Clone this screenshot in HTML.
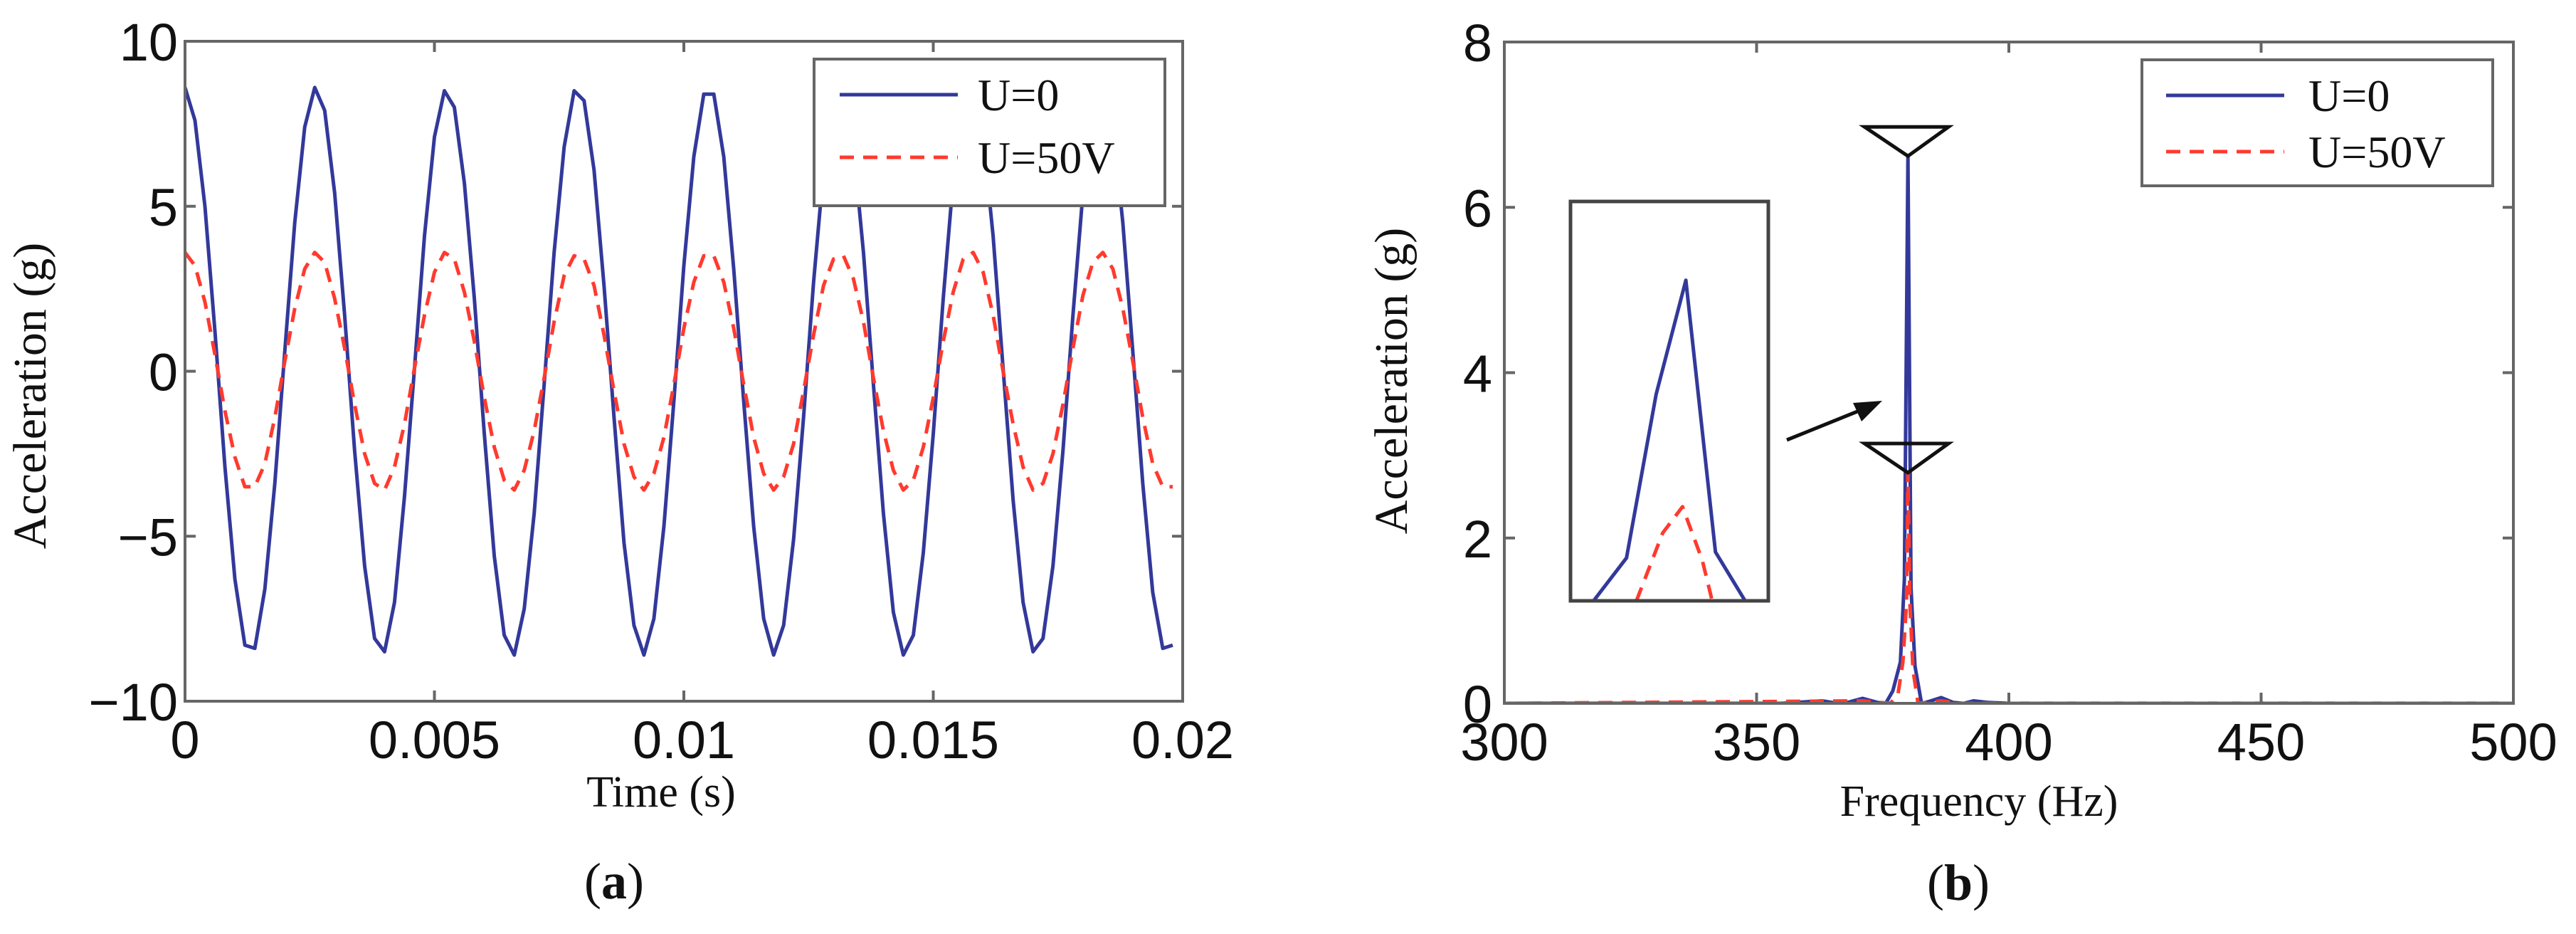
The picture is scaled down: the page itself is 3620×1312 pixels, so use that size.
<!DOCTYPE html>
<html><head><meta charset="utf-8"><style>
html,body{margin:0;padding:0;background:#fff;}
svg{display:block;}
.tick{font-family:"Liberation Sans",sans-serif;font-size:74px;fill:#111;}
.lab{font-family:"Liberation Serif",serif;fill:#111;}
</style></head><body>
<svg id="fig" width="3620" height="1312" viewBox="0 0 3620 1312" xmlns="http://www.w3.org/2000/svg">
<defs>
<clipPath id="clipA"><rect x="260" y="58" width="1402" height="927"/></clipPath>
<clipPath id="clipB"><rect x="2114" y="59" width="1418" height="929"/></clipPath>
<clipPath id="clipI"><rect x="2207" y="283" width="278" height="561"/></clipPath>
</defs>
<g id="panelA"></g>
<g id="panelB"></g>
</svg>
<script>
// ---------- Panel (a) data ----------
const timeStep = 0.0002;
const blueA = [8.6,7.6,5.0,1.2,-2.9,-6.3,-8.3,-8.4,-6.6,-3.4,
0.6,4.5,7.4,8.6,7.9,5.4,1.7,-2.4,-5.9,-8.1,
-8.5,-7.0,-3.8,0.1,4.1,7.1,8.5,8.0,5.7,2.2,
-1.9,-5.6,-8.0,-8.6,-7.2,-4.3,-0.4,3.6,6.8,8.5,
8.2,6.1,2.6,-1.4,-5.2,-7.7,-8.6,-7.5,-4.7,-0.9,
3.2,6.5,8.4,8.4,6.5,3.1,-0.9,-4.7,-7.5,-8.6,
-7.7,-5.1,-1.4,2.7,6.1,8.2,8.5,6.8,3.6,-0.4,
-4.3,-7.3,-8.6,-8.0,-5.5,-1.9,2.2,5.8,8.1,8.5,
7.1,4.1,0.1,-3.9,-7.0,-8.5,-8.1,-5.9,-2.4,1.7,
5.4,7.9,8.6,7.4,4.5,0.6,-3.4,-6.7,-8.4,-8.3];
const redA = [3.6,3.2,2.1,0.5,-1.2,-2.6,-3.5,-3.5,-2.8,-1.4,
0.3,1.9,3.1,3.6,3.3,2.2,0.7,-1.0,-2.5,-3.4,
-3.6,-2.9,-1.6,0.1,1.7,3.0,3.6,3.4,2.4,0.9,
-0.8,-2.3,-3.3,-3.6,-3.0,-1.8,-0.2,1.5,2.9,3.5,
3.4,2.6,1.1,-0.6,-2.2,-3.2,-3.6,-3.1,-2.0,-0.4,
1.3,2.7,3.5,3.5,2.7,1.3,-0.4,-2.0,-3.1,-3.6,
-3.2,-2.2,-0.6,1.1,2.6,3.4,3.5,2.8,1.5,-0.2,
-1.8,-3.0,-3.6,-3.3,-2.3,-0.8,0.9,2.4,3.4,3.6,
3.0,1.7,0.0,-1.6,-2.9,-3.6,-3.4,-2.5,-1.0,0.7,
2.3,3.3,3.6,3.1,1.9,0.3,-1.4,-2.8,-3.5,-3.5];
const xTicksA = [0,0.005,0.01,0.015,0.02];
const xTickLabelsA = ["0","0.005","0.01","0.015","0.02"];
const yTicksA = [-10,-5,0,5,10];
const yTickLabelsA = ["\u221210","\u22125","0","5","10"];

// ---------- Panel (b) data ----------
const freqBlue = [300,355,360,363,366,368,371,374,375.6,377,378.5,379.3,380,380.6,381.4,382.7,384,386.6,389,391,393,396,400,500];
const ampBlue  = [0,0,0.02,0.03,0,0.01,0.06,0.01,0,0.15,0.5,1.5,6.62,1.4,0.45,0,0.02,0.07,0.01,0,0.03,0.01,0,0];
const freqRed  = [300,371,376.5,378,379,379.7,380,380.4,381,382,386.6,390,500];
const ampRed   = [0,0.03,0,0.1,0.5,1.2,2.79,1.2,0.4,0,0.03,0,0];
const insetFreqBlue = [377.7,378.7,379.6,380.5,381.4,382.3];
const insetAmpBlue  = [1.22,1.94,4.69,6.6,2.04,1.22];
const insetFreqRed  = [379.0,379.8,380.4,381.0,381.3];
const insetAmpRed   = [1.22,2.36,2.8,1.9,1.22];
const markerVals = [6.62,2.79];
const markerFreq = 380;
const xTicksB = [300,350,400,450,500];
const xTickLabelsB = ["300","350","400","450","500"];
const yTicksB = [0,2,4,6,8];
const yTickLabelsB = ["0","2","4","6","8"];

const NS="http://www.w3.org/2000/svg";
function mk(parent,tag,attrs){const e=document.createElementNS(NS,tag);for(const k in attrs)e.setAttribute(k,attrs[k]);parent.appendChild(e);return e;}
const BLUE="#33399a", RED="#ff3a2e", AX="#666";

function axes(g,L,R,T,B,xs,ys,xT,xL,yT,yL,labelRight){
  const frame=mk(g,'rect',{x:L,y:T,width:R-L,height:B-T,fill:'none',stroke:AX,'stroke-width':4});
  
  
  xT.forEach((v,i)=>{
    const x=xs(v);
    const t1=mk(g,'line',{x1:x,x2:x,y1:B,y2:B-15,stroke:AX,'stroke-width':4});
    
    
    mk(g,'line',{x1:x,x2:x,y1:T,y2:T+15,stroke:AX,'stroke-width':4});
    const tx=mk(g,'text',{x:x,y:B+80,'text-anchor':'middle',class:'tick'});
    tx.textContent=xL[i];
    
    
  });
  yT.forEach((v,i)=>{
    const y=ys(v);
    const t1=mk(g,'line',{x1:L,x2:L+15,y1:y,y2:y,stroke:AX,'stroke-width':4});
    
    
    mk(g,'line',{x1:R,x2:R-15,y1:y,y2:y,stroke:AX,'stroke-width':4});
    const tx=mk(g,'text',{x:labelRight,y:y+27,'text-anchor':'end',class:'tick'});
    tx.textContent=yL[i];
    
    
  });
}
function poly(g,xsArr,ysArr,xs,ys,color,dash,clip,name){
  const pts=xsArr.map((v,i)=>xs(v).toFixed(1)+','+ys(ysArr[i]).toFixed(1)).join(' ');
  const p=mk(g,'polyline',{points:pts,fill:'none',stroke:color,'stroke-width':5,'stroke-linejoin':'round','clip-path':'url(#'+clip+')'});
  if(dash)p.setAttribute('stroke-dasharray',dash);
  
  
  return p;
}
function legend(g,x,y,w,h,lx1,lx2,tx,y1,y2){
  const lg=mk(g,'g',{});
  
  
  mk(lg,'rect',{x:x,y:y,width:w,height:h,fill:'#fff',stroke:AX,'stroke-width':4});
  const e1=mk(lg,'g',{});
  
  
  mk(e1,'line',{x1:lx1,x2:lx2,y1:y1,y2:y1,stroke:BLUE,'stroke-width':5});
  const t1=mk(e1,'text',{x:tx,y:y1+22,class:'lab','font-size':64});t1.textContent='U=0';
  const e2=mk(lg,'g',{});
  
  
  mk(e2,'line',{x1:lx1,x2:lx2,y1:y2,y2:y2,stroke:RED,'stroke-width':5,'stroke-dasharray':'20 13'});
  const t2=mk(e2,'text',{x:tx,y:y2+22,class:'lab','font-size':64});t2.textContent='U=50V';
}
function text(g,str,x,y,size,name,rot,extra){
  const t=mk(g,'text',Object.assign({x:x,y:y,'text-anchor':'middle',class:'lab','font-size':size},extra||{}));
  if(rot)t.setAttribute('transform','rotate(-90 '+x+' '+y+')');
  t.textContent=str;
  
  
  return t;
}

// ---------- Panel (a) ----------
(function(){
  const g=document.getElementById('panelA');
  const L=260,R=1662,T=58,B=985;
  const xs=v=>L+(v-0)/(0.02)*(R-L);
  const ys=v=>B-(v+10)/20*(B-T);
  const times=blueA.map((_,i)=>i*timeStep);
  poly(g,times,blueA,xs,ys,BLUE,null,'clipA','series-u0');
  poly(g,times,redA,xs,ys,RED,'20 13','clipA','series-u50v');
  axes(g,L,R,T,B,xs,ys,xTicksA,xTickLabelsA,yTicksA,yTickLabelsA,250);
  legend(g,1144,83,493,206,1180,1346,1374,133,221);
  text(g,'Time (s)',929,1133,62,'x-axis-title');
  text(g,'Acceleration (g)',64,556,66,'y-axis-title',true);
  const c=text(g,'',863,1262,72,'panel-label-a');
  c.innerHTML='(<tspan font-weight="bold">a</tspan>)';
})();

// ---------- Panel (b) ----------
(function(){
  const g=document.getElementById('panelB');
  const L=2114,R=3532,T=59,B=988;
  const xs=v=>L+(v-300)/200*(R-L);
  const ys=v=>B-v/8*(B-T);
  poly(g,freqBlue,ampBlue,xs,ys,BLUE,null,'clipB','series-u0');
  poly(g,freqRed,ampRed,xs,ys,RED,'20 13','clipB','series-u50v');
  axes(g,L,R,T,B,xs,ys,xTicksB,xTickLabelsB,yTicksB,yTickLabelsB,2097);
  markerVals.forEach((v,i)=>{
    const x=xs(markerFreq), y=ys(v);
    const m=mk(g,'path',{d:'M'+(x-61)+','+(y-41)+' L'+(x+57)+','+(y-41)+' L'+x+','+y+' Z',fill:'none',stroke:'#111','stroke-width':5});
    
    
  });
  const ig=mk(g,'g',{});
  
  
  mk(ig,'rect',{x:2207,y:283,width:278,height:561,fill:'#fff',stroke:'#444','stroke-width':5});
  const ixs=v=>2207+(v-377)*46.3;
  const iys=v=>844-(v-1.22)*83.7;
  poly(ig,insetFreqBlue,insetAmpBlue,ixs,iys,BLUE,null,'clipI','inset-series-u0');
  poly(ig,insetFreqRed,insetAmpRed,ixs,iys,RED,'20 13','clipI','inset-series-u50v');
  mk(ig,'line',{x1:2207,x2:2485,y1:844,y2:844,stroke:'#444','stroke-width':5});
  const a=mk(g,'g',{});
  
  
  mk(a,'line',{x1:2511,y1:618,x2:2620,y2:574,stroke:'#111','stroke-width':5});
  mk(a,'path',{d:'M2645,563 L2604,566 L2616,592 Z',fill:'#111'});
  legend(g,3010,84,493,177,3044,3210,3244,134,213);
  text(g,'Frequency  (Hz)',2781,1146,62,'x-axis-title',false,{'xml:space':'preserve'});
  text(g,'Acceleration (g)',1977,535,66,'y-axis-title',true);
  const c=text(g,'',2752,1264,72,'panel-label-b');
  c.innerHTML='(<tspan font-weight="bold">b</tspan>)';
})();
</script>
</body></html>
